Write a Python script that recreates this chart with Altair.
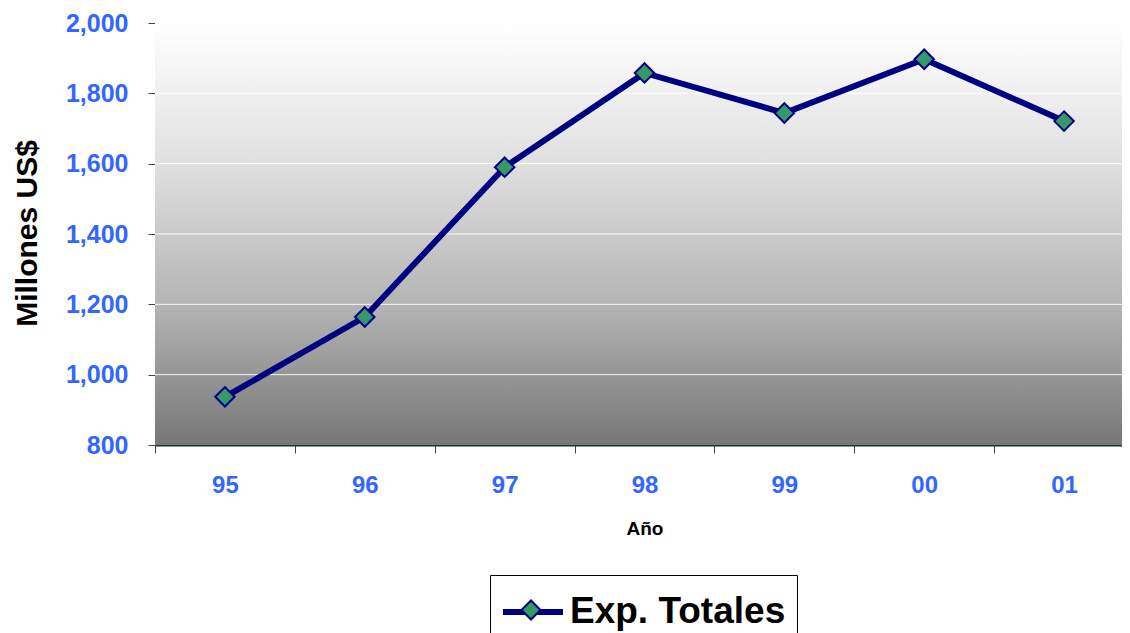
import altair as alt
import pandas as pd

# ---- data ----
anios = ["95", "96", "97", "98", "99", "00", "01"]
exportaciones = [937, 1164, 1590, 1858, 1744, 1897, 1721]
serie = "Exp. Totales"
grid_vals = [1000, 1200, 1400, 1600, 1800]
y_ticks = [800, 1000, 1200, 1400, 1600, 1800, 2000]

W, H = 979, 422
FONT = "Liberation Sans"
BLUE = "#3366FF"
NAVY = "#000080"
GREEN = "#339966"

df = pd.DataFrame({"anio": anios, "valor": exportaciones, "serie": serie, "serie2": serie + " "})
df_grid = pd.DataFrame({"v": grid_vals})
df_bg = pd.DataFrame({"a": [0]})

x_enc = alt.X(
    "anio:N",
    sort=anios,
    scale=alt.Scale(paddingInner=0, paddingOuter=0),
    axis=alt.Axis(
        title="Año",
        labelAngle=0,
        tickBand="extent",
        tickSize=8,
        tickColor="#444444",
        domainColor="#0d3b1e",
        domainWidth=2,
        labelColor=BLUE,
        labelFont=FONT,
        labelFontSize=24,
        labelFontWeight="bold",
        labelPadding=20,
        titleFont=FONT,
        titleFontSize=19,
        titleFontWeight="bold",
        titleColor="black",
        titleBaseline="middle",
        titleY=83,
    ),
)

y_scale = alt.Scale(domain=[800, 2000], nice=False, zero=False)
y_enc = alt.Y(
    "valor:Q",
    scale=y_scale,
    axis=alt.Axis(
        title="Millones US$",
        values=y_ticks,
        format=",.0f",
        grid=False,
        tickSize=7,
        tickColor="#444444",
        domainColor="#1f5f3f",
        domainWidth=1,
        labelColor=BLUE,
        labelFont=FONT,
        labelFontSize=25,
        labelFontWeight="bold",
        labelPadding=20,
        titleFont=FONT,
        titleFontSize=30,
        titleFontWeight="bold",
        titleColor="black",
        titleAngle=-90,
        titleAlign="center",
        titleBaseline="middle",
        titleX=-128,
        titleY=210,
    ),
)

bg = alt.Chart(df_bg).mark_rect(
    fill={
        "gradient": "linear",
        "x1": 0, "y1": 0, "x2": 0, "y2": 1,
        "stops": [
            {"offset": 0, "color": "#ffffff"},
            {"offset": 0.33, "color": "#e0e0e0"},
            {"offset": 0.67, "color": "#b4b4b4"},
            {"offset": 1, "color": "#777777"},
        ],
    }
).encode(x=alt.value(0), x2=alt.value(W), y=alt.value(0), y2=alt.value(H))

grid = alt.Chart(df_grid).mark_rule(color="white", strokeWidth=1, opacity=0.9).encode(
    y=alt.Y("v:Q", scale=y_scale)
)

line = alt.Chart(df).mark_line(strokeWidth=6).encode(
    x=x_enc,
    y=y_enc,
    color=alt.Color(
        "serie:N",
        scale=alt.Scale(range=[NAVY]),
        legend=alt.Legend(
            title=".",
            titleOrient="right",
            titleColor="white",
            titleFontSize=10,
            titlePadding=5,
            orient="none",
            legendX=335,
            legendY=552,
            padding=4,
            symbolOffset=6,
            symbolType="stroke",
            symbolSize=3600,
            symbolStrokeWidth=6,
            labelOffset=4,
            labelLimit=500,
            labelFont=FONT,
            labelFontSize=37,
            labelFontWeight="bold",
            labelColor="black",
            strokeColor="black",
            fillColor="white",
            cornerRadius=0,
            zindex=1,
        ),
    ),
)

points = alt.Chart(df).mark_point(
    shape="diamond", filled=True, size=380, stroke=NAVY, strokeWidth=2, opacity=1
).encode(
    x=alt.X("anio:N", sort=anios),
    y=alt.Y("valor:Q", scale=y_scale),
    fill=alt.Fill(
        "serie2:N",
        scale=alt.Scale(range=[GREEN]),
        legend=alt.Legend(
            title=None,
            orient="none",
            legendX=365.5,
            legendY=576.5,
            padding=0,
            symbolOffset=0,
            symbolType="diamond",
            symbolSize=360,
            symbolStrokeColor=NAVY,
            symbolStrokeWidth=2,
            symbolOpacity=1,
            labelExpr="''",
            labelFontSize=1,
            labelOffset=0,
            zindex=2,
        ),
    ),
)

chart = (
    alt.layer(bg, grid, line, points)
    .resolve_scale(color="independent", fill="independent")
    .properties(
        width=W,
        height=H,
        autosize=alt.AutoSizeParams(type="none"),
        padding={"left": 147, "top": 15, "right": -12, "bottom": 188},
    )
    .configure_view(stroke="#3a9a68", strokeWidth=2)
    .configure(background="white")
)

chart.save("out.html", embed_options={"renderer": "svg", "actions": False})
